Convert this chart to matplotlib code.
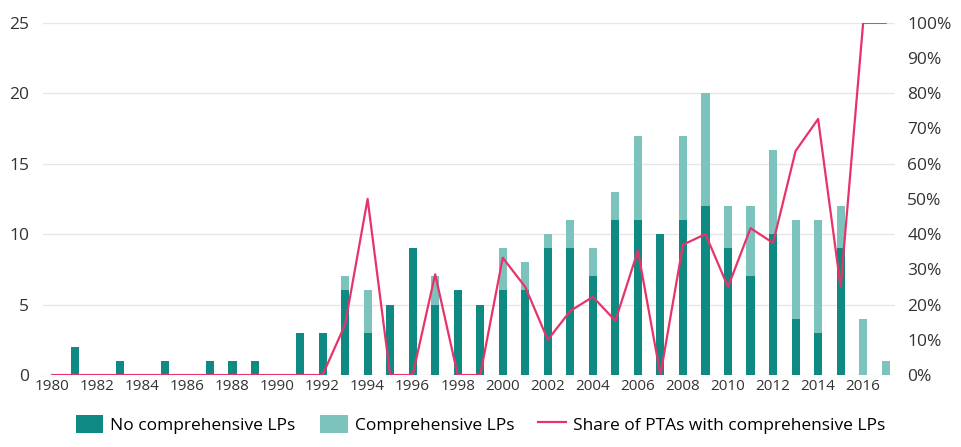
import numpy as np
import matplotlib.pyplot as plt
from matplotlib.ticker import FuncFormatter

years = list(range(1980, 2018))
no_comp = [0, 2, 0, 1, 0, 1, 0, 1, 1, 1, 0, 3, 3, 6, 3, 5, 9, 5, 6, 5,
           6, 6, 9, 9, 7, 11, 11, 10, 11, 12, 9, 7, 10, 4, 3, 9, 0, 0]
comp = [0, 0, 0, 0, 0, 0, 0, 0, 0, 0, 0, 0, 0, 1, 3, 0, 0, 2, 0, 0,
        3, 2, 1, 2, 2, 2, 6, 0, 6, 8, 3, 5, 6, 7, 8, 3, 4, 1]
share = [0, 0, 0, 0, 0, 0, 0, 0, 0, 0, 0, 0, 0, 14.3, 50, 0, 0, 28.6, 0, 0,
         33.3, 25, 10, 18.2, 22.2, 15.4, 35.3, 0, 37, 40, 25, 41.7, 37.5, 63.6, 72.7, 25, 100, 100]
tick_years = list(range(1980, 2017, 2))

dark = '#0e8a82'
light = '#7cc3bd'
red = '#e8336a'
txt = '#333333'

plt.rcParams['font.family'] = ['Open Sans', 'DejaVu Sans']

fig = plt.figure(figsize=(9.61, 4.47), dpi=100)
ax = fig.add_axes([0.045, 0.161, 0.886, 0.788])

ax.bar(years, no_comp, width=0.36, color=dark, label='No comprehensive LPs', zorder=2)
ax.bar(years, comp, width=0.36, bottom=no_comp, color=light, label='Comprehensive LPs', zorder=2)
ax.set_ylim(0, 25)
ax.set_yticks([0, 5, 10, 15, 20, 25])
ax.set_xlim(1979.6, 2017.4)
ax.set_xticks(tick_years)
ax.grid(axis='y', color='#e6e6e6', linewidth=1, zorder=0)
for s in ax.spines.values():
    s.set_visible(False)
ax.tick_params(axis='x', length=0, labelsize=11, colors=txt, pad=3)
ax.tick_params(axis='y', length=0, labelsize=12.5, colors=txt, pad=10)

ax2 = ax.twinx()
ax2.plot(years, share, color=red, linewidth=1.6, label='Share of PTAs with comprehensive LPs', zorder=3)
ax2.set_ylim(0, 100)
ax2.set_yticks(range(0, 101, 10))
ax2.yaxis.set_major_formatter(FuncFormatter(lambda v, p: f'{int(v)}%'))
for s in ax2.spines.values():
    s.set_visible(False)
ax2.tick_params(axis='y', length=0, labelsize=12.5, colors=txt, pad=9)

h1, l1 = ax.get_legend_handles_labels()
h2, l2 = ax2.get_legend_handles_labels()
fig.legend(h1 + h2, l1 + l2, loc='lower center', bbox_to_anchor=(0.5, -0.005), ncol=3,
           frameon=False, handlelength=1.6, handleheight=1.2,
           columnspacing=1.4, handletextpad=0.4,
           prop={'size': 12.5})

fig.savefig('out.png', dpi=100)
